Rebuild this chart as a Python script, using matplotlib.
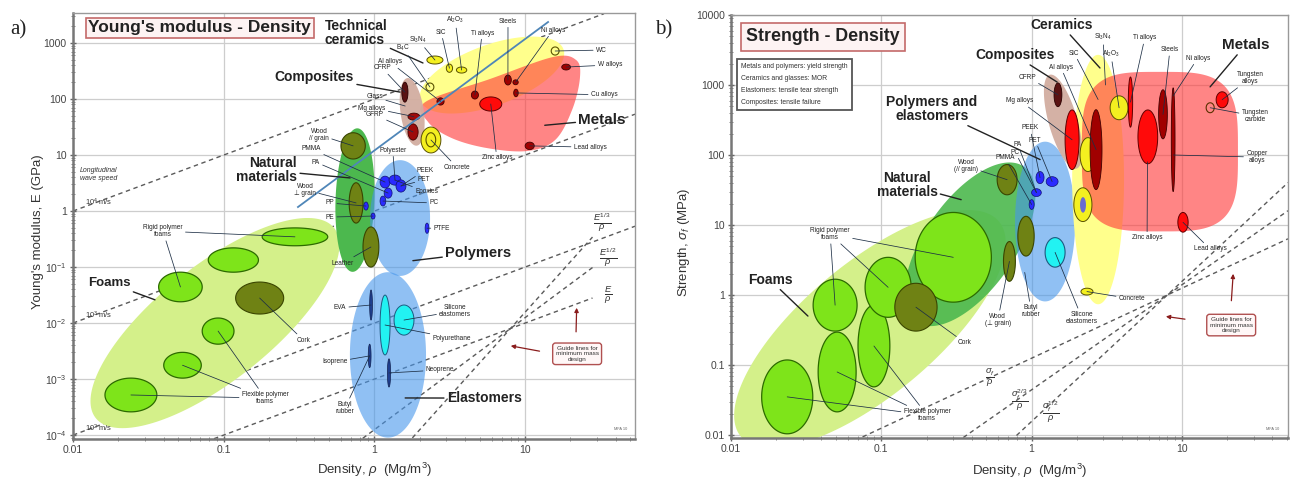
import numpy as np
import matplotlib
matplotlib.use("Agg")
import matplotlib.pyplot as plt
from matplotlib.ticker import LogLocator, NullFormatter

plt.rcParams['font.family'] = ['Liberation Sans', 'DejaVu Sans']
plt.rcParams['mathtext.fontset'] = 'custom'
plt.rcParams['mathtext.rm'] = 'Liberation Sans'
plt.rcParams['mathtext.it'] = 'Liberation Sans:italic'
plt.rcParams['mathtext.bf'] = 'Liberation Sans:bold'

# ---------------- axes data ----------------
density_ticks = [0.01, 0.1, 1, 10]
density_labels = ['0.01', '0.1', '1', '10']
modulus_ticks = [1e-4, 1e-3, 1e-2, 1e-1, 1, 10, 100, 1000]
modulus_labels = ['10$^{-4}$', '10$^{-3}$', '10$^{-2}$', '10$^{-1}$', '1', '10', '100', '1000']
strength_ticks = [0.01, 0.1, 1, 10, 100, 1000, 10000]
strength_labels = ['0.01', '0.1', '1', '10', '100', '1000', '10000']

# ---------------- Young's modulus chart ----------------
# family envelopes: centre, end of one semi-diameter, end of the conjugate one (rho, E)
E_env_foams = [(0.0875, 0.01), (0.54, 0.50), (0.152, 1.6e-3)]
E_env_natural = [(0.743, 1.57), (0.77, 30.0), (1.0, 1.57)]
E_env_polymers = [(1.48, 0.75), (1.48, 8.1), (2.34, 0.75)]
E_env_elastomers = [(1.23, 2.7e-3), (1.23, 0.081), (2.2, 2.7e-3)]
E_env_composites = [(1.78, 59), (1.67, 237), (2.13, 59)]
E_env_ceramics = [(6.03, 268), (18.1, 720), (6.6, 78)]
E_env_metals = [(2.17, 88), (5.85, 228), (15.3, 562), (21.8, 497), (23.1, 237),
                (20.5, 64), (15.8, 18.5), (10.3, 11.8), (5.6, 13.3), (3.27, 20), (2.27, 39)]

# material cells: name, rho_lo, rho_hi, E_lo, E_hi
E_foam_cells = [('rigid_a', 0.18, 0.49, 0.24, 0.50), ('rigid_b', 0.079, 0.17, 0.081, 0.22),
                ('rigid_c', 0.037, 0.072, 0.024, 0.081), ('flex_a', 0.072, 0.117, 0.0042, 0.0123),
                ('flex_b', 0.040, 0.071, 0.00104, 0.0030), ('flex_c', 0.0163, 0.036, 2.6e-4, 1.04e-3)]
E_olive_cells = [('cork', 0.12, 0.25, 0.0145, 0.054), ('wood_par', 0.60, 0.87, 8.5, 25),
                 ('wood_perp', 0.68, 0.84, 0.61, 3.2), ('leather', 0.84, 1.07, 0.10, 0.52)]
E_polymer_cells = [('poly_a', 1.09, 1.27, 2.58, 4.2), ('poly_b', 1.25, 1.50, 2.9, 4.4),
                   ('poly_c', 1.39, 1.62, 2.18, 3.6), ('poly_d', 1.16, 1.31, 1.7, 2.58),
                   ('poly_e', 1.09, 1.19, 1.23, 1.85), ('PP', 0.85, 0.91, 1.04, 1.45),
                   ('PE', 0.95, 1.01, 0.72, 0.92), ('PTFE', 2.17, 2.30, 0.40, 0.61)]
E_elastomer_cells = [('silicone', 1.35, 1.83, 6.1e-3, 0.021), ('PU', 1.09, 1.27, 2.7e-3, 0.0316)]
E_rubber_bars = [('EVA', 0.93, 0.97, 0.0113, 0.039), ('isoprene', 0.91, 0.95, 1.6e-3, 4.2e-3),
                 ('neoprene', 1.22, 1.28, 7.2e-4, 2.3e-3)]
E_ceramic_cells = [('Concrete', 2.04, 2.76, 10.9, 31.6), ('Al2O3', 3.5, 4.1, 291, 373),
                   ('SiC', 3.0, 3.3, 300, 420), ('Si3N4', 2.23, 2.85, 422, 586)]
E_ceramic_rings = [('WC', 14.9, 16.8, 610, 850), ('B4C', 2.2, 2.48, 139, 193),
                   ('Concrete_core', 2.2, 2.55, 14, 25)]
E_metal_red = [('Zinc', 5.0, 7.0, 61, 109)]
E_metal_dark = [('Ti', 4.4, 4.9, 100, 139), ('Steels', 7.3, 8.1, 178, 268), ('Ni', 8.3, 9.0, 180, 220),
                ('Cu', 8.4, 9.0, 110, 150), ('W', 17.5, 20.0, 330, 420), ('Lead', 10.0, 11.5, 12.5, 17),
                ('Al', 2.6, 2.9, 78, 105)]
E_composite_cells = [('CFRP', 1.52, 1.67, 88, 200), ('Mg', 1.67, 2.0, 42, 56), ('GFRP', 1.67, 1.95, 18.5, 36)]

E_wave_ratios = [100, 1, 0.01]             # E/rho for 10^4, 10^3, 10^2 m/s
E_guide_point = (8.0, 8e-3)
E_guide_slopes = [1, 2, 3]
E_blue_line = [(0.311, 1.18), (14.2, 2370)]

# ---------------- Strength chart ----------------
S_env_foams = [(0.084, 0.326), (0.607, 11.2), (0.16, 0.061)]
S_env_natural = [(0.389, 5.3), (0.89, 68), (0.685, 2.25)]
S_env_polymers = [(1.23, 11.2), (1.23, 155), (1.95, 11.2)]
S_env_ceramics = [(2.77, 44.6), (2.77, 2700), (4.12, 44.6)]
S_env_composites = [(1.62, 299), (1.32, 1400), (2.0, 341)]
S_env_metals = (2.16, 23.6, 8.1, 1540)     # rho range, strength range

S_foam_cells = [('flex_a', 0.016, 0.035, 0.0104, 0.118), ('flex_b', 0.038, 0.068, 0.0214, 0.295),
                ('flex_c', 0.070, 0.114, 0.0487, 0.716), ('rigid_d', 0.0352, 0.069, 0.305, 1.68),
                ('rigid_e', 0.078, 0.158, 0.48, 3.45), ('rigid_f', 0.168, 0.54, 0.79, 15.1)]
S_olive_cells = [('cork', 0.123, 0.235, 0.305, 1.47), ('wood_par', 0.59, 0.80, 27, 73),
                 ('wood_b', 0.81, 1.04, 3.6, 13.3), ('wood_perp', 0.65, 0.78, 1.57, 5.8)]
S_polymer_cells = [('p1', 1.07, 1.21, 39, 58), ('p2', 1.25, 1.50, 35.5, 49),
                   ('p3', 1.0, 1.16, 25.5, 33), ('p4', 0.963, 1.04, 16.7, 23)]
S_elastomer_cells = [('silicone', 1.23, 1.67, 2.5, 6.6)]
S_ceramic_cells = [('c1', 2.1, 2.68, 58, 177), ('Al2O3', 3.33, 4.38, 319, 700),
                   ('glass', 1.91, 2.52, 11.2, 34), ('Concrete', 2.13, 2.56, 1.0, 1.25)]
S_ceramic_rings = [('WC', 14.5, 16.4, 402, 557)]
S_metal_red = [('Zinc', 5.1, 6.9, 75, 440), ('Ti', 4.4, 4.7, 250, 1300),
               ('W', 16.9, 20.3, 473, 800), ('Lead', 9.4, 11.0, 7.9, 15.1), ('GFRP', 1.67, 2.07, 62, 440)]
S_metal_dark = [('Al', 2.45, 2.94, 32, 444), ('Steels', 7.0, 8.0, 170, 855), ('Ni', 8.5, 9.0, 30, 910)]
S_composite_cells = [('CFRP', 1.41, 1.59, 490, 1070)]
S_glass_core = [('glass_core', 2.1, 2.3, 15, 25)]

S_guide_point = (8.0, 1.0)
S_guide_slopes = [1, 1.5, 2]

# ---------------- colours ----------------
C_FOAM_ENV = '#d4f08a'
C_NAT_ENV = '#4cb84e'
C_POLY_ENV = '#4696eb'
C_COMP_ENV = '#d2ada0'
C_CER_ENV = '#ffff8c'
C_MET_ENV = '#ff3a3a'
C_FOAM = '#7ee41a'
C_OLIVE = '#6f8214'
C_BLUE = '#2a2aff'
C_CYAN = '#22f2f2'
C_YEL = '#f4f020'


def log_ellipse(c, a, b, n=180):
    c = np.log10(np.asarray(c, float))
    a = np.log10(np.asarray(a, float)) - c
    b = np.log10(np.asarray(b, float)) - c
    t = np.linspace(0, 2 * np.pi, n)
    p = c + np.outer(np.cos(t), a) + np.outer(np.sin(t), b)
    return 10 ** p[:, 0], 10 ** p[:, 1]


def cell_outline(rlo, rhi, vlo, vhi):
    c = (np.sqrt(rlo * rhi), np.sqrt(vlo * vhi))
    return log_ellipse(c, (rhi, c[1]), (c[0], vhi))


def smooth_closed(pts, n=24):
    P = np.log10(np.asarray(pts, float))
    m = len(P)
    t = np.linspace(0, 1, n, endpoint=False)[:, None]
    seg = []
    for i in range(m):
        p0, p1, p2, p3 = P[i - 1], P[i], P[(i + 1) % m], P[(i + 2) % m]
        seg.append(0.5 * (2 * p1 + (-p0 + p2) * t + (2 * p0 - 5 * p1 + 4 * p2 - p3) * t ** 2
                          + (-p0 + 3 * p1 - 3 * p2 + p3) * t ** 3))
    s = 10 ** np.vstack(seg)
    return s[:, 0], s[:, 1]


def super_ellipse(rlo, rhi, vlo, vhi, k=3.6, n=300):
    cx, cy = (np.log10(rlo) + np.log10(rhi)) / 2, (np.log10(vlo) + np.log10(vhi)) / 2
    ax_, ay_ = (np.log10(rhi) - np.log10(rlo)) / 2, (np.log10(vhi) - np.log10(vlo)) / 2
    t = np.linspace(0, 2 * np.pi, n)
    x = cx + ax_ * np.sign(np.cos(t)) * np.abs(np.cos(t)) ** (2 / k)
    y = cy + ay_ * np.sign(np.sin(t)) * np.abs(np.sin(t)) ** (2 / k)
    return 10 ** x, 10 ** y


def draw_env(ax, env, color, alpha=1.0, z=2):
    x, y = log_ellipse(*env)
    ax.fill(x, y, fc=color, ec='none', alpha=alpha, zorder=z)


def draw_cells(ax, cells, fc, ec, lw=0.8, z=4, store=None):
    for name, rlo, rhi, vlo, vhi in cells:
        x, y = cell_outline(rlo, rhi, vlo, vhi)
        ax.fill(x, y, fc=fc, ec=ec, lw=lw, zorder=z)
        if store is not None:
            store[name] = (np.sqrt(rlo * rhi), np.sqrt(vlo * vhi))


def setup(ax, xlim, ylim, yticks, ylabels):
    ax.set_xscale('log')
    ax.set_yscale('log')
    ax.set_xlim(*xlim)
    ax.set_ylim(*ylim)
    ax.set_xticks(density_ticks)
    ax.set_xticklabels(density_labels)
    ax.set_yticks(yticks)
    ax.set_yticklabels(ylabels)
    ax.xaxis.set_minor_locator(LogLocator(base=10, subs=np.arange(2, 10), numticks=20))
    ax.yaxis.set_minor_locator(LogLocator(base=10, subs=np.arange(2, 10), numticks=20))
    ax.xaxis.set_minor_formatter(NullFormatter())
    ax.yaxis.set_minor_formatter(NullFormatter())
    ax.grid(True, which='major', color='#cdcdcd', lw=0.9)
    ax.set_axisbelow(True)
    ax.tick_params(which='major', direction='inout', length=5, width=1.0, colors='#666',
                   labelsize=7.5, labelcolor='#444', pad=2)
    ax.tick_params(which='minor', direction='inout', length=3, width=0.7, colors='#888')
    for side in ['top', 'right']:
        ax.spines[side].set_color('#999')
        ax.spines[side].set_linewidth(1.0)
    for side in ['left', 'bottom']:
        ax.spines[side].set_color('#777')
        ax.spines[side].set_linewidth(1.8)


def tag(ax, text, fxy, targets, lookup, size=4.7, bold=False, lw=0.55, ha='center',
        color='#222', lcolor='#1d2f45'):
    weight = 'bold' if bold else 'normal'
    if not isinstance(targets, list):
        targets = [targets]
    for i, tg in enumerate(targets):
        xy = lookup[tg] if isinstance(tg, str) else tg
        ax.annotate(text, xy=xy, xycoords='data', xytext=fxy, textcoords='axes fraction',
                    fontsize=size, fontweight=weight, ha=ha, va='center',
                    color=color if i == 0 else 'none', zorder=9, linespacing=1.0,
                    arrowprops=dict(arrowstyle='-', lw=lw, color=lcolor, shrinkA=0, shrinkB=0))


fig = plt.figure(figsize=(12.93, 4.87), dpi=100)
axE = fig.add_axes([0.05646, 0.09856, 0.43465, 0.87474])
axS = fig.add_axes([0.56535, 0.10062, 0.43078, 0.86858])

E_xlim = (0.01, 53.6)
E_ylim = (10 ** -4.07, 10 ** 3.536)
S_xlim = (0.01, 50.8)
S_ylim = (10 ** -2.043, 1e4)
setup(axE, E_xlim, E_ylim, modulus_ticks, modulus_labels)
setup(axS, S_xlim, S_ylim, strength_ticks, strength_labels)

dash = dict(color='#5a5a5a', lw=1.0, ls=(0, (3.2, 2.6)), zorder=1.5)

# ======== Young's modulus - density ========
ax = axE
rr = np.logspace(-2, np.log10(E_xlim[1]), 200)
for ratio in E_wave_ratios:
    ee = ratio * rr
    keep = ee <= E_ylim[1]
    ax.plot(rr[keep], ee[keep], **dash)
rg = np.logspace(-2, np.log10(28), 200)
for s in E_guide_slopes:
    eg = E_guide_point[1] * (rg / E_guide_point[0]) ** s
    keep = eg >= E_ylim[0]
    ax.plot(rg[keep], eg[keep], **dash)

draw_env(ax, E_env_foams, C_FOAM_ENV, z=2)
draw_env(ax, E_env_natural, C_NAT_ENV, z=2.1)
draw_env(ax, E_env_polymers, C_POLY_ENV, alpha=0.6, z=2.2)
draw_env(ax, E_env_elastomers, C_POLY_ENV, alpha=0.6, z=2.2)
draw_env(ax, E_env_ceramics, C_CER_ENV, z=2.3)
mx, my = smooth_closed(E_env_metals)
ax.fill(mx, my, fc=C_MET_ENV, ec='none', alpha=0.62, zorder=2.4)
draw_env(ax, E_env_composites, C_COMP_ENV, alpha=0.95, z=2.5)

E_pts = {}
draw_cells(ax, E_foam_cells, C_FOAM, '#2c6a00', lw=0.9, store=E_pts)
draw_cells(ax, E_olive_cells, C_OLIVE, '#3a4500', lw=0.8, store=E_pts)
draw_cells(ax, E_polymer_cells, C_BLUE, '#101070', lw=0.5, store=E_pts)
draw_cells(ax, E_elastomer_cells, C_CYAN, '#1d5a80', lw=0.7, store=E_pts)
draw_cells(ax, E_rubber_bars, '#1f3f8f', '#102050', lw=0.5, store=E_pts)
draw_cells(ax, E_ceramic_cells, C_YEL, '#5a5200', lw=0.7, store=E_pts)
draw_cells(ax, E_ceramic_rings, 'none', '#5a5200', lw=0.8, z=4.5, store=E_pts)
draw_cells(ax, E_metal_red, '#ff0a0a', '#600000', lw=0.7, store=E_pts)
draw_cells(ax, E_metal_dark, '#a00000', '#400000', lw=0.6, store=E_pts)
draw_cells(ax, E_composite_cells[:1], '#5a1212', '#2a0000', lw=0.6, store=E_pts)
draw_cells(ax, E_composite_cells[1:], '#9e0a0a', '#400000', lw=0.6, store=E_pts)

bx, by = zip(*E_blue_line)
ax.plot(bx, by, color='#4f86b8', lw=1.3, zorder=6)

ax.text(0.027, 0.965, "Young's modulus - Density", transform=ax.transAxes, fontsize=12.5,
        fontweight='bold', ha='left', va='center', color='#222', zorder=10,
        bbox=dict(boxstyle='square,pad=0.15', fc='#fdf3f3', ec='#c46a6a', lw=1.2))

E_family_labels = [("Technical\nceramics", (0.448, 0.953), (2.1, 440), 'left', 10),
                   ("Composites", (0.359, 0.850), (1.48, 133), 'left', 10),
                   ("Natural\nmaterials", (0.399, 0.631), (0.69, 3.9), 'right', 10),
                   ("Metals", (0.899, 0.749), (13.5, 34), 'left', 11),
                   ("Polymers", (0.662, 0.437), (1.8, 0.13), 'left', 10.5),
                   ("Foams", (0.027, 0.366), (0.035, 0.026), 'left', 9.5),
                   ("Elastomers", (0.665, 0.096), (1.6, 4.6e-4), 'left', 10)]
for text, fxy, tg, ha, fs in E_family_labels:
    tag(ax, text, fxy, tg, E_pts, size=fs, bold=True, lw=1.0, ha=ha, lcolor='#222')

E_small_labels = [("Al$_2$O$_3$", (0.680, 0.983), 'Al2O3'), ("SiC", (0.655, 0.955), 'SiC'),
                  ("Si$_3$N$_4$", (0.614, 0.937), 'Si3N4'), ("B$_4$C", (0.587, 0.918), 'B4C'),
                  ("Ti alloys", (0.728, 0.953), 'Ti'), ("Steels", (0.774, 0.981), 'Steels'),
                  ("Ni alloys", (0.854, 0.960), 'Ni'), ("WC", (0.940, 0.913), 'WC'),
                  ("W alloys", (0.955, 0.878), 'W'), ("Cu alloys", (0.945, 0.808), 'Cu'),
                  ("Lead alloys", (0.920, 0.685), 'Lead'), ("Zinc alloys", (0.754, 0.660), 'Zinc'),
                  ("Concrete", (0.683, 0.638), 'Concrete'), ("Al alloys", (0.564, 0.885), 'Al'),
                  ("CFRP", (0.550, 0.871), 'CFRP'), ("Glass", (0.537, 0.803), (1.6, 75)),
                  ("Mg alloys", (0.532, 0.777), 'Mg'), ("GFRP", (0.537, 0.761), 'GFRP'),
                  ("Wood\n// grain", (0.438, 0.714), 'wood_par'), ("PMMA", (0.424, 0.681), 'poly_a'),
                  ("PA", (0.432, 0.650), 'poly_d'), ("Wood\n\u22a5 grain", (0.413, 0.585), 'wood_perp'),
                  ("PP", (0.457, 0.554), 'PP'), ("PE", (0.457, 0.521), 'PE'),
                  ("Leather", (0.480, 0.413), 'leather'), ("Polyester", (0.569, 0.678), 'poly_b'),
                  ("PEEK", (0.626, 0.631), 'poly_c'), ("PET", (0.624, 0.608), 'poly_c'),
                  ("Epoxies", (0.629, 0.580), 'poly_b'), ("PC", (0.642, 0.554), 'poly_e'),
                  ("PTFE", (0.656, 0.495), 'PTFE'), ("EVA", (0.475, 0.308), 'EVA'),
                  ("Silicone\nelastomers", (0.680, 0.300), 'silicone'),
                  ("Polyurethane", (0.674, 0.237), 'PU'), ("Isoprene", (0.466, 0.181), 'isoprene'),
                  ("Neoprene", (0.653, 0.162), 'neoprene'), ("Butyl\nrubber", (0.484, 0.073), 'isoprene'),
                  ("Rigid polymer\nfoams", (0.160, 0.488), ['rigid_a', 'rigid_c']),
                  ("Cork", (0.410, 0.232), 'cork'),
                  ("Flexible polymer\nfoams", (0.342, 0.096), ['flex_c', 'flex_b', 'flex_a'])]
for text, fxy, tg in E_small_labels:
    tag(ax, text, fxy, tg, E_pts)

ax.text(0.012, 0.62, "Longitudinal\nwave speed", transform=ax.transAxes, fontsize=5.0,
        style='italic', ha='left', va='center', color='#333', zorder=9)
for text, fy in [("10$^4$ m/s", 0.556), ("10$^3$ m/s", 0.291), ("10$^2$ m/s", 0.026)]:
    ax.text(0.021, fy, text, transform=ax.transAxes, fontsize=5.4, ha='left', va='center',
            color='#333', zorder=9)
for text, fxy in [(r"$\frac{E}{\rho}$", (0.952, 0.338)), (r"$\frac{E^{1/2}}{\rho}$", (0.952, 0.425)),
                  (r"$\frac{E^{1/3}}{\rho}$", (0.942, 0.507))]:
    ax.text(*fxy, text, transform=ax.transAxes, fontsize=9.5, ha='center', va='center',
            color='#333', zorder=9)
gb = dict(boxstyle='round,pad=0.45', fc='#fff7f7', ec='#b05050', lw=1.0)
ax.text(0.897, 0.200, "Guide lines for\nminimum mass\ndesign", transform=ax.transAxes, fontsize=4.6,
        ha='center', va='center', color='#333', zorder=9, bbox=gb, linespacing=1.1)
for xy, xyt in [((22, 0.021), (0.895, 0.245)), ((7.7, 4.0e-3), (0.835, 0.205))]:
    ax.annotate('', xy=xy, xytext=xyt, textcoords='axes fraction',
                arrowprops=dict(arrowstyle='-|>', color='#8a1c1c', lw=0.9, mutation_scale=6), zorder=9)
ax.text(0.975, 0.02, "MFA 10", transform=ax.transAxes, fontsize=2.8, ha='center', color='#666')

# ======== Strength - density ========
ax = axS
rg = np.logspace(-2, np.log10(S_xlim[1]), 200)
for s in S_guide_slopes:
    sg = S_guide_point[1] * (rg / S_guide_point[0]) ** s
    keep = sg >= S_ylim[0]
    ax.plot(rg[keep], sg[keep], **dash)

draw_env(ax, S_env_foams, C_FOAM_ENV, z=2)
draw_env(ax, S_env_natural, C_NAT_ENV, alpha=0.9, z=2.1)
draw_env(ax, S_env_polymers, C_POLY_ENV, alpha=0.6, z=2.2)
draw_env(ax, S_env_ceramics, C_CER_ENV, z=2.3)
mx, my = super_ellipse(*S_env_metals)
ax.fill(mx, my, fc=C_MET_ENV, ec='none', alpha=0.62, zorder=2.4)
draw_env(ax, S_env_composites, C_COMP_ENV, alpha=0.95, z=2.5)

S_pts = {}
draw_cells(ax, S_foam_cells, C_FOAM, '#2c6a00', lw=0.9, store=S_pts)
draw_cells(ax, S_olive_cells, C_OLIVE, '#3a4500', lw=0.8, store=S_pts)
draw_cells(ax, S_polymer_cells, C_BLUE, '#101070', lw=0.5, store=S_pts)
draw_cells(ax, S_elastomer_cells, C_CYAN, '#1d5a80', lw=0.8, store=S_pts)
draw_cells(ax, S_ceramic_cells, C_YEL, '#5a5200', lw=0.7, store=S_pts)
draw_cells(ax, S_glass_core, '#6a6ad0', 'none', lw=0, z=4.6, store=S_pts)
draw_cells(ax, S_ceramic_rings, 'none', '#5a3000', lw=0.8, z=4.5, store=S_pts)
draw_cells(ax, S_metal_red, '#ff0a0a', '#600000', lw=0.7, store=S_pts)
draw_cells(ax, S_metal_dark, '#a00000', '#400000', lw=0.6, store=S_pts)
draw_cells(ax, S_composite_cells, '#5a1212', '#2a0000', lw=0.6, store=S_pts)

ax.text(0.027, 0.948, "Strength - Density", transform=ax.transAxes, fontsize=12.8,
        fontweight='bold', ha='left', va='center', color='#222', zorder=10,
        bbox=dict(boxstyle='square,pad=0.3', fc='#fdf3f3', ec='#c46a6a', lw=1.2))
ax.text(0.018, 0.836, "Metals and polymers: yield strength\nCeramics and glasses: MOR\n"
        "Elastomers: tensile tear strength\nComposites: tensile failure",
        transform=ax.transAxes, fontsize=4.9, ha='left', va='center', color='#333', zorder=10,
        linespacing=2.0, bbox=dict(boxstyle='square,pad=0.6', fc='white', ec='#555', lw=1.3))

S_family_labels = [("Composites", (0.438, 0.905), (1.48, 1100), 'left', 10),
                   ("Ceramics", (0.537, 0.976), (2.85, 1750), 'left', 10),
                   ("Metals", (0.881, 0.929), (15.4, 940), 'left', 11),
                   ("Polymers and\nelastomers", (0.361, 0.778), (1.14, 86), 'center', 10),
                   ("Natural\nmaterials", (0.316, 0.598), (0.34, 23), 'center', 10),
                   ("Foams", (0.030, 0.374), (0.0325, 0.5), 'left', 10)]
for text, fxy, tg, ha, fs in S_family_labels:
    tag(ax, text, fxy, tg, S_pts, size=fs, bold=True, lw=1.0, ha=ha, lcolor='#222')

S_small_labels = [("Si$_3$N$_4$", (0.668, 0.948), (3.1, 1000)), ("SiC", (0.616, 0.910), (2.77, 620)),
                  ("Al$_2$O$_3$", (0.682, 0.908), 'Al2O3'), ("Al alloys", (0.592, 0.877), 'Al'),
                  ("Ti alloys", (0.743, 0.946), 'Ti'), ("Steels", (0.788, 0.918), 'Steels'),
                  ("Ni alloys", (0.838, 0.898), (8.75, 700)),
                  ("Tungsten\nalloys", (0.932, 0.851), 'W'), ("Tungsten\ncarbide", (0.941, 0.761), 'WC'),
                  ("Copper\nalloys", (0.944, 0.664), (8.75, 100)),
                  ("Zinc alloys", (0.747, 0.473), (5.9, 80)), ("Lead alloys", (0.860, 0.447), 'Lead'),
                  ("Concrete", (0.720, 0.329), 'Concrete'),
                  ("Silicone\nelastomers", (0.630, 0.284), 'silicone'),
                  ("Butyl\nrubber", (0.539, 0.300), (0.9, 2.1)),
                  ("Wood\n(\u22a5 grain)", (0.479, 0.279), 'wood_perp'),
                  ("Cork", (0.420, 0.225), 'cork'),
                  ("Flexible polymer\nfoams", (0.352, 0.054), ['flex_b', 'flex_a', 'flex_c']),
                  ("Rigid polymer\nfoams", (0.178, 0.482), ['rigid_f', 'rigid_d', 'rigid_e']),
                  ("Wood\n(// grain)", (0.422, 0.643), 'wood_par'),
                  ("CFRP", (0.533, 0.853), 'CFRP'), ("Mg alloys", (0.519, 0.797), 'GFRP'),
                  ("PEEK", (0.537, 0.733), 'p1'), ("PET", (0.546, 0.704), 'p2'),
                  ("PA", (0.515, 0.693), 'p3'), ("PC", (0.510, 0.676), 'p3'),
                  ("PMMA", (0.492, 0.662), 'p4')]
for text, fxy, tg in S_small_labels:
    tag(ax, text, fxy, tg, S_pts)

for text, fxy in [(r"$\frac{\sigma_f}{\rho}$", (0.465, 0.142)),
                  (r"$\frac{\sigma_f^{2/3}}{\rho}$", (0.519, 0.090)),
                  (r"$\frac{\sigma_f^{1/2}}{\rho}$", (0.573, 0.061))]:
    ax.text(*fxy, text, transform=ax.transAxes, fontsize=9.5, ha='center', va='center',
            color='#333', zorder=9)
ax.text(0.898, 0.267, "Guide lines for\nminimum mass\ndesign", transform=ax.transAxes, fontsize=4.6,
        ha='center', va='center', color='#333', zorder=9, bbox=gb, linespacing=1.1)
for xy, xyt in [((22, 2.2), (0.898, 0.318)), ((7.5, 0.5), (0.82, 0.28))]:
    ax.annotate('', xy=xy, xytext=xyt, textcoords='axes fraction',
                arrowprops=dict(arrowstyle='-|>', color='#8a1c1c', lw=0.9, mutation_scale=6), zorder=9)
ax.text(0.972, 0.02, "MFA 10", transform=ax.transAxes, fontsize=2.8, ha='center', color='#666')

# ---------------- figure text ----------------
fig.text(10 / 1293, 1 - 30 / 487, "a)", fontsize=15, family='Liberation Serif', va='center', color='#222')
fig.text(655 / 1293, 1 - 30 / 487, "b)", fontsize=15, family='Liberation Serif', va='center', color='#222')
fig.text(375 / 1293, 1 - 470 / 487, "Density, $\\rho$  (Mg/m$^3$)", fontsize=9.5, ha='center',
         va='center', color='#333')
fig.text(1030 / 1293, 1 - 471 / 487, "Density, $\\rho$  (Mg/m$^3$)", fontsize=9.5, ha='center',
         va='center', color='#333')
fig.text(38 / 1293, 1 - 232 / 487, "Young's modulus, E (GPa)", fontsize=9.5, rotation=90,
         ha='center', va='center', color='#333')
fig.text(684 / 1293, 1 - 242 / 487, "Strength, $\\sigma_f$ (MPa)", fontsize=9.5, rotation=90,
         ha='center', va='center', color='#333')

fig.savefig('out.png', dpi=100)
